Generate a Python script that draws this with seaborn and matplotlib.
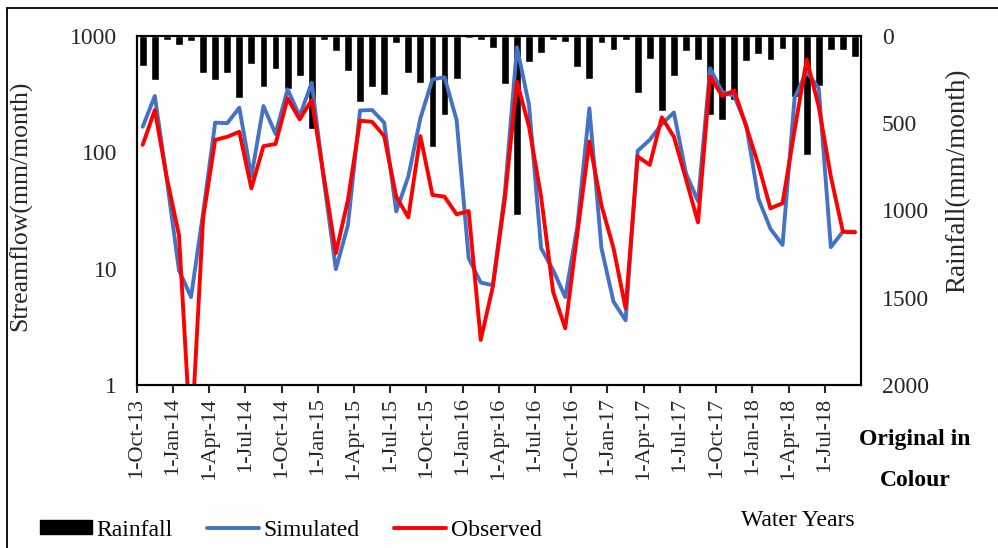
import numpy as np
import pandas as pd
import matplotlib
matplotlib.use("Agg")
import matplotlib.pyplot as plt
from matplotlib.patches import Rectangle, Patch
from matplotlib.lines import Line2D
from matplotlib.ticker import FixedLocator, NullLocator
import seaborn as sns

# ---------------- data (monthly, Oct-2013 .. Sep-2018) ----------------
simulated = [166, 305, 58, 9.7, 5.7, 30, 180, 178, 242, 62,
             250, 144, 348, 205, 397, 58, 9.9, 23.7, 229, 231,
             180, 31, 62, 196, 424, 442, 190, 12.3, 7.6, 7.2,
             45, 800, 255, 15, 9.7, 5.7, 23, 239, 15, 5.2,
             3.6, 103, 128, 175, 220, 66, 38, 528, 332, 305,
             170, 40, 22, 16, 295, 493, 355, 15.3, 20.8, 20.8]
observed = [116, 231, 60, 19.5, 0.3, 27, 128, 136, 150, 49,
            113, 118, 291, 192, 282, 62, 13.6, 39, 187, 183,
            138, 41.6, 27.6, 138, 43, 41.6, 29.3, 31.3, 2.44, 7,
            40, 405, 166, 41.6, 6.3, 3.07, 20, 124, 35, 15,
            4.56, 92, 78, 200, 136, 59, 25, 447, 305, 340,
            166, 78, 33, 36.5, 155, 630, 247, 62, 20.8, 20.5]
rainfall = [172, 252, 23, 52, 27, 214, 252, 214, 357, 162,
            290, 189, 305, 227, 531, 23, 84, 200, 376, 292,
            338, 38, 210, 271, 634, 455, 248, 13, 23, 71,
            275, 1026, 151, 99, 23, 32, 180, 248, 38, 78,
            23, 329, 131, 429, 228, 85, 138, 451, 481, 367,
            145, 105, 138, 74, 352, 682, 288, 80, 80, 119]
tick_labels = ["1-Oct-13", "1-Jan-14", "1-Apr-14", "1-Jul-14",
               "1-Oct-14", "1-Jan-15", "1-Apr-15", "1-Jul-15",
               "1-Oct-15", "1-Jan-16", "1-Apr-16", "1-Jul-16",
               "1-Oct-16", "1-Jan-17", "1-Apr-17", "1-Jul-17",
               "1-Oct-17", "1-Jan-18", "1-Apr-18", "1-Jul-18"]
flow_ticks = [1, 10, 100, 1000]
rain_ticks = [0, 500, 1000, 1500, 2000]

n = len(simulated)
df = pd.DataFrame({"month": np.arange(n) + 0.5,
                   "Simulated": simulated,
                   "Observed": observed,
                   "Rainfall": rainfall})

# ---------------- style ----------------
sns.set_style("white")
plt.rcParams["font.family"] = ["Liberation Serif", "DejaVu Serif"]
plt.rcParams["text.color"] = "black"

BLUE = "#4472C4"
RED = "#FF0000"

fig = plt.figure(figsize=(9.98, 5.48), dpi=100)
W, H = 998, 548
L, R, T, B = 136.7, 861, 36, 385
ax = fig.add_axes([L / W, 1 - B / H, (R - L) / W, (B - T) / H])
ax2 = ax.twinx()

# rainfall bars (hanging from top, inverted right axis)
sns.barplot(data=df, x="month", y="Rainfall", ax=ax2, native_scale=True,
            width=0.65, color="black", saturation=1, errorbar=None)
ax2.set_ylim(2000, 0)

# streamflow lines on the log axis
sns.lineplot(data=df, x="month", y="Simulated", ax=ax, color=BLUE, lw=2.8)
sns.lineplot(data=df, x="month", y="Observed", ax=ax, color=RED, lw=2.8)
ax.set_yscale("log")
ax.set_ylim(1, 1000)
ax.set_xlim(0, n)

ax.set_zorder(ax2.get_zorder() + 1)
ax.patch.set_visible(False)

# ticks
ax.yaxis.set_major_locator(FixedLocator(flow_ticks))
ax.yaxis.set_minor_locator(NullLocator())
ax.set_yticklabels([str(v) for v in flow_ticks], fontsize=17)
ax.tick_params(axis="y", length=0, pad=14)
ax.set_xticks(np.arange(0, n - 2, 3))
ax.set_xticklabels(tick_labels, rotation=90, fontsize=16)
ax.tick_params(axis="x", direction="out", length=6, width=1.5, pad=3,
               bottom=True)

ax2.set_yticks(rain_ticks)
ax2.set_yticklabels([str(v) for v in rain_ticks], fontsize=17)
ax2.tick_params(axis="y", length=0, pad=15)
ax2.set_xlim(0, n)

ax.set_xlabel("")
ax.set_ylabel("Streamflow(mm/month)", fontsize=18.5)
ax.yaxis.set_label_coords(-0.1446, 0.513)
ax2.set_ylabel("Rainfall(mm/month)", fontsize=19.5, rotation=90)
ax2.yaxis.set_label_coords(1.116, 0.585)

for a in (ax, ax2):
    for s in a.spines.values():
        s.set_visible(True)
        s.set_color("black")
        s.set_linewidth(1.5)

# annotations
fig.text(915 / W, 1 - 440 / H, "Original in", ha="center", va="center",
         fontsize=17, fontweight="bold")
fig.text(915 / W, 1 - 480 / H, "Colour", ha="center", va="center",
         fontsize=17, fontweight="bold")
fig.text(798 / W, 1 - 521 / H, "Water Years", ha="center", va="center",
         fontsize=17)

# legend
handles = [Patch(facecolor="black", edgecolor="black"),
           Line2D([], [], color=BLUE, lw=2.8),
           Line2D([], [], color=RED, lw=2.8)]
fig.legend(handles, ["Rainfall", "Simulated", "Observed"], ncol=3,
           loc="center left", bbox_to_anchor=(40 / W, 1 - 530 / H),
           frameon=False, fontsize=17, handlelength=2.2, handleheight=0.55,
           handletextpad=0.2, columnspacing=1.45, borderpad=0,
           borderaxespad=0)

# outer chart border
fig.add_artist(Rectangle((7 / W, -0.05), 1.2, (1 - 8 / H) + 0.05,
                         transform=fig.transFigure, fill=False,
                         edgecolor="black", lw=1.3))

fig.savefig("out.png", dpi=100)
